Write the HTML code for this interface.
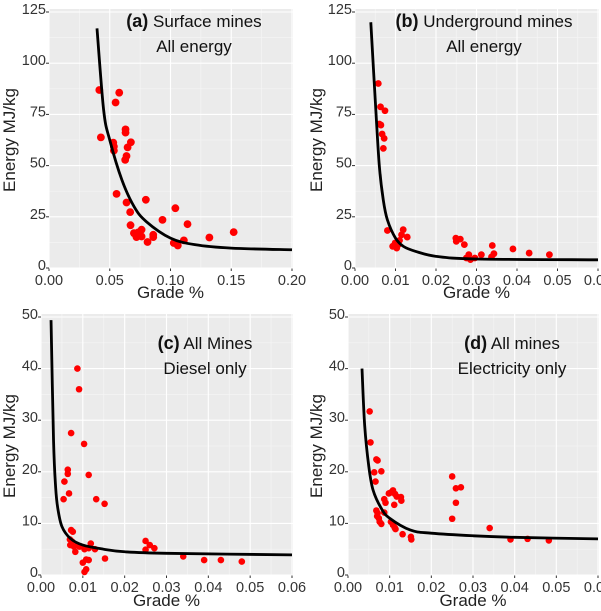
<!DOCTYPE html>
<html><head><meta charset="utf-8"><style>
html,body{margin:0;padding:0;background:#fff;}
svg{display:block;font-family:"Liberation Sans",sans-serif;}
</style></head><body>
<svg id="fig" width="601" height="611" viewBox="0 0 601 611" xmlns="http://www.w3.org/2000/svg"></svg>
<script>
// ---- data ----
const aX=[0.0414,0.0427,0.0578,0.0548,0.0529,0.0534,0.0534,0.063,0.063,0.0674,0.0647,0.0638,0.0627,0.0556,0.0638,0.0668,0.0797,0.0671,0.0699,0.0734,0.0762,0.072,0.0762,0.0811,0.0858,0.0858,0.0934,0.104,0.114,0.1027,0.106,0.111,0.132,0.152];
const aY=[86.9,63.8,85.6,80.8,61.2,59.3,57.3,67.7,66.1,61.4,58.9,54.7,52.8,36.2,32,27.3,33.3,20.9,17,17.4,18.7,15.1,15.4,12.7,16.2,15.1,23.5,29.2,21.4,12.2,11,13.5,14.9,17.5];
const aCurveX=[0.0395,0.045,0.05,0.06,0.07,0.08,0.1,0.12,0.15,0.2];
const aCurveY=[117,77,62.5,43,30,22.7,14.6,11.4,9.7,8.9];

const bX=[0.00575,0.0063,0.0074,0.006,0.0064,0.0067,0.0072,0.007,0.008,0.0093,0.0099,0.0103,0.0107,0.011,0.0119,0.0115,0.0129,0.0249,0.025,0.026,0.027,0.0281,0.0275,0.0285,0.0296,0.0312,0.0339,0.0343,0.0337,0.039,0.043,0.048];
const bY=[90.1,78.7,76.8,70.3,69.8,65.4,63.3,58.4,18.3,10.6,12.2,9.7,11.4,13.5,18.7,16.2,15.1,14.6,13,14.1,11.4,6.5,4.9,4.1,4.9,6.5,11,7,5.4,9.3,7.3,6.5];
const bCurveX=[0.0039,0.005,0.006,0.007,0.008,0.01,0.012,0.015,0.02,0.03,0.06];
const bCurveY=[120,82,50,33,23.5,14.6,10.5,8.1,5.7,4.4,4.0];

const cX=[0.0087,0.0091,0.0072,0.0103,0.0064,0.0064,0.0114,0.0056,0.0067,0.0054,0.0132,0.0152,0.0072,0.0076,0.0069,0.0074,0.007,0.0079,0.0082,0.0087,0.0092,0.0104,0.0114,0.0119,0.0129,0.01,0.0108,0.0114,0.0108,0.0104,0.0153,0.025,0.026,0.0271,0.025,0.034,0.039,0.043,0.048];
const cY=[40,36,27.5,25.4,20.4,19.6,19.4,18.1,15.8,14.7,14.7,13.8,8.7,8.4,6.9,6.5,5.8,5.5,4.5,5.8,5.5,5,5.2,6.1,5,2.4,3,2.9,1.1,0.6,3.2,6.6,5.8,5.2,4.9,3.6,2.9,2.9,2.6];
const cCurveX=[0.0024,0.003,0.0035,0.004,0.005,0.007,0.01,0.015,0.02,0.03,0.06];
const cCurveY=[49.4,26,17,13,9.4,7.1,5.8,5.0,4.5,4.2,3.9];

const dX=[0.0052,0.0054,0.0068,0.0071,0.0063,0.008,0.0066,0.0068,0.0071,0.0074,0.0076,0.008,0.007,0.0087,0.009,0.0087,0.0098,0.0103,0.0108,0.0113,0.0117,0.0111,0.0127,0.0128,0.0103,0.0108,0.0112,0.0114,0.0131,0.0151,0.0152,0.025,0.0259,0.0271,0.0259,0.025,0.034,0.039,0.0431,0.0482];
const dY=[31.7,25.7,22.4,22.2,19.9,20.1,18.1,12.5,12,11,10.3,9.9,11.4,14.7,14,12.1,15.8,16,16.4,15.7,15.2,13.6,15.1,14.4,10.3,9.7,9.2,8.9,7.9,7.4,6.9,19.1,16.8,17,14,10.9,9.1,6.9,7,6.7];
const dCurveX=[0.00336,0.004,0.005,0.006,0.008,0.01,0.015,0.02,0.03,0.04,0.06];
const dCurveY=[40,29,21,16.5,12.9,11,8.7,8.1,7.6,7.3,7.0];

const aXTicks=["0.00","0.05","0.10","0.15","0.20"];
const smallXTicks=["0.00","0.01","0.02","0.03","0.04","0.05","0.06"];
const bigYTicks=["0","25","50","75","100","125"];
const smallYTicks=["0","10","20","30","40","50"];

// ---- drawing ----
const NS="http://www.w3.org/2000/svg";
const svg=document.getElementById('fig');
function mk(tag,attrs,parent){const e=document.createElementNS(NS,tag);for(const k in attrs)e.setAttribute(k,attrs[k]);(parent||svg).appendChild(e);return e;}

const panels=[
 {id:'a',x0:49,x1:292,xmax:0.2,xt:aXTicks,yt:12,yb:268,ymax:125,ytk:bigYTicks,X:aX,Y:aY,CX:aCurveX,CY:aCurveY,r:3.9,
  t1:"(a)",t2:" Surface mines",t3:"All energy",tx:194,ty1:27,ty2:52,ylx:15,yly:140,xly:298},
 {id:'b',x0:355,x1:598,xmax:0.06,xt:smallXTicks,yt:12,yb:268,ymax:125,ytk:bigYTicks,X:bX,Y:bY,CX:bCurveX,CY:bCurveY,r:3.4,
  t1:"(b)",t2:" Underground mines",t3:"All energy",tx:484,ty1:27,ty2:52,ylx:322,yly:140,xly:298},
 {id:'c',x0:41,x1:292,xmax:0.06,xt:smallXTicks,yt:317,yb:575,ymax:50,ytk:smallYTicks,X:cX,Y:cY,CX:cCurveX,CY:cCurveY,r:3.3,
  t1:"(c)",t2:" All Mines",t3:"Diesel only",tx:205,ty1:349,ty2:374,ylx:15,yly:446,xly:606},
 {id:'d',x0:348,x1:598,xmax:0.06,xt:smallXTicks,yt:317,yb:575,ymax:50,ytk:smallYTicks,X:dX,Y:dY,CX:dCurveX,CY:dCurveY,r:3.3,
  t1:"(d)",t2:" All mines",t3:"Electricity only",tx:512,ty1:349,ty2:374,ylx:322,yly:446,xly:606}
];

function catmull(pts){let d='M'+pts[0][0].toFixed(2)+','+pts[0][1].toFixed(2);
 for(let i=0;i<pts.length-1;i++){const p0=pts[i-1]||pts[i],p1=pts[i],p2=pts[i+1],p3=pts[i+2]||p2;
  const c1=[p1[0]+(p2[0]-p0[0])/6,p1[1]+(p2[1]-p0[1])/6],c2=[p2[0]-(p3[0]-p1[0])/6,p2[1]-(p3[1]-p1[1])/6];
  d+=' C'+c1[0].toFixed(2)+','+c1[1].toFixed(2)+' '+c2[0].toFixed(2)+','+c2[1].toFixed(2)+' '+p2[0].toFixed(2)+','+p2[1].toFixed(2);}
 return d;}

panels.forEach(p=>{
 const sx=v=>p.x0+v/p.xmax*(p.x1-p.x0);
 const sy=v=>p.yb-v/p.ymax*(p.yb-p.yt);
 const g=mk('g',{});
 
 
 const bg=mk('rect',{x:p.x0,y:p.yt-3,width:p.x1-p.x0+1,height:p.yb-p.yt+3,fill:'#ebebeb'},g);
 
 
 const nx=p.xt.length-1, ny=p.ytk.length-1;
 const stepX=p.xmax/nx, stepY=p.ymax/ny;
 for(let i=0;i<nx;i++){const x=sx((i+0.5)*stepX);const l=mk('line',{x1:x,x2:x,y1:p.yt-3,y2:p.yb,stroke:'#f6f6f6','stroke-width':0.6},g);
  }
 for(let i=0;i<ny;i++){const y=sy((i+0.5)*stepY);const l=mk('line',{x1:p.x0,x2:p.x1+1,y1:y,y2:y,stroke:'#f6f6f6','stroke-width':0.6},g);
  }
 p.xt.forEach((lab,i)=>{const x=sx(i*stepX);
  const l=mk('line',{x1:x,x2:x,y1:p.yt-3,y2:p.yb,stroke:'#fff','stroke-width':1.1},g);
  
  const tk=mk('line',{x1:x,x2:x,y1:p.yb,y2:p.yb+3,stroke:'#333','stroke-width':1},g);
  
  const t=mk('text',{x:x,y:p.yb+17,'font-size':14.5,fill:'#333','text-anchor':'middle'},g);t.textContent=lab;
  });
 p.ytk.forEach((lab,i)=>{const y=sy(i*stepY);
  const l=mk('line',{x1:p.x0,x2:p.x1+1,y1:y,y2:y,stroke:'#fff','stroke-width':1.1},g);
  
  const tk=mk('line',{x1:p.x0-3,x2:p.x0,y1:y,y2:y,stroke:'#333','stroke-width':1},g);
  
  const t=mk('text',{x:p.x0-3,y:y+2,'font-size':14.5,fill:'#333','text-anchor':'end'},g);t.textContent=lab;
  });
 p.X.forEach((v,i)=>{const c=mk('circle',{cx:sx(v),cy:sy(p.Y[i]),r:p.r,fill:'#ff0000'},g);
  });
 const pts=p.CX.map((v,i)=>[sx(v),sy(p.CY[i])]);
 const path=mk('path',{d:catmull(pts),fill:'none',stroke:'#000','stroke-width':2.8},g);
 
 const t1=mk('text',{x:p.tx,y:p.ty1,'font-size':17,fill:'#111','text-anchor':'middle'},g);
 const b=mk('tspan',{'font-weight':'bold','font-size':18},t1);b.textContent=p.t1;
 const r=mk('tspan',{},t1);r.textContent=p.t2;
 
 const t3=mk('text',{x:p.tx,y:p.ty2,'font-size':17,fill:'#111','text-anchor':'middle'},g);t3.textContent=p.t3;
 
 const yl=mk('text',{x:p.ylx,y:p.yly,'font-size':17,fill:'#222','text-anchor':'middle',transform:'rotate(-90 '+p.ylx+' '+p.yly+')'},g);yl.textContent='Energy MJ/kg';
 
 const xl=mk('text',{x:(p.x0+p.x1)/2,y:p.xly,'font-size':17,fill:'#222','text-anchor':'middle'},g);xl.textContent='Grade %';
 
});
</script>
</body></html>
